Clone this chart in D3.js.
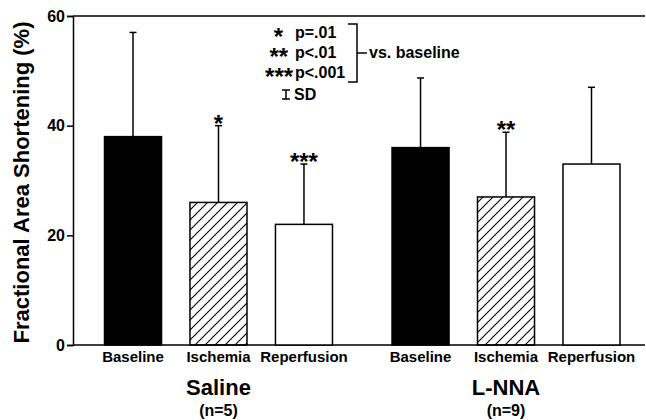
<!DOCTYPE html>
<html>
<head>
<meta charset="utf-8">
<script src="https://cdn.jsdelivr.net/npm/d3@7"></script>
<style>
  body { margin: 0; background: #fff; }
  text { font-family: "Liberation Sans", Arial, Helvetica, sans-serif; font-weight: bold; fill: #000; }
</style>
</head>
<body>
<script>
// data
var groups = ['Saline', 'L-NNA'];
var groupN = ['(n=5)', '(n=9)'];
var conditions = ['Baseline', 'Ischemia', 'Reperfusion'];
var salineMeans = [38, 26, 22];
var salineSD = [19, 14, 11];
var lnnaMeans = [36, 27, 33];
var lnnaSD = [12.7, 11.8, 14];
var salineStars = ['', '*', '***'];
var lnnaStars = ['', '**', ''];
var yTicks = [0, 20, 40, 60];
var legendStars = ['*', '**', '***'];
var legendLabels = ['p=.01', 'p<.01', 'p<.001'];

var W = 646, H = 420;
var svg = d3.select('body').append('svg')
  .attr('width', W)
  .attr('height', H);

// hatch pattern for ischemia
svg.append('defs').append('pattern')
  .attr('id', 'hatch')
  .attr('patternUnits', 'userSpaceOnUse')
  .attr('width', 10)
  .attr('height', 10)
  .append('path')
  .attr('d', 'M0,10 L10,0 M-2,2 L2,-2 M8,12 L12,8')
  .attr('stroke', '#000')
  .attr('stroke-width', 1.1);

var y = d3.scaleLinear().domain([0, 60]).range([345, 16]);
var x0 = d3.scaleBand().domain(groups).range([90.25, 634.25]).paddingInner(0.108).paddingOuter(0);
var x1 = d3.scaleBand().domain(conditions).range([0, x0.bandwidth()]).paddingInner(0.333).paddingOuter(0.1667);

var rows = [];
groups.forEach(function(g, gi) {
  var means = gi === 0 ? salineMeans : lnnaMeans;
  var sds = gi === 0 ? salineSD : lnnaSD;
  var stars = gi === 0 ? salineStars : lnnaStars;
  conditions.forEach(function(c, ci) {
    rows.push({ group: g, cond: c, mean: means[ci], sd: sds[ci], star: stars[ci] });
  });
});

var fills = { Baseline: '#000', Ischemia: 'url(#hatch)', Reperfusion: '#fff' };

// frame lines: top and bottom run across the plot
svg.append('line').attr('x1', 73).attr('x2', 645).attr('y1', y(60)).attr('y2', y(60))
  .attr('stroke', '#000').attr('stroke-width', 1.5);
svg.append('line').attr('x1', 73).attr('x2', 645).attr('y1', y(0)).attr('y2', y(0))
  .attr('stroke', '#000').attr('stroke-width', 1.5);

// y axis
var yAxis = svg.append('g')
  .attr('transform', 'translate(73,0)')
  .call(d3.axisLeft(y).tickValues(yTicks).tickSize(6).tickPadding(2));
yAxis.select('.domain').attr('stroke-width', 1.5);
yAxis.selectAll('.tick line').attr('stroke-width', 1.5);
yAxis.selectAll('.tick text')
  .attr('font-size', 16)
  .style('font-family', '"Liberation Sans", Arial, sans-serif')
  .style('font-weight', 'bold');

svg.append('text')
  .attr('transform', 'translate(29,' + (y(30) + 2) + ') rotate(-90)')
  .attr('text-anchor', 'middle')
  .attr('font-size', 22)
  .text('Fractional Area Shortening (%)');

// error bars
var bx = function(d) { return x0(d.group) + x1(d.cond); };
var cx = function(d) { return bx(d) + x1.bandwidth() / 2; };

svg.selectAll('.err').data(rows).enter().append('line')
  .attr('x1', cx).attr('x2', cx)
  .attr('y1', function(d) { return y(d.mean); })
  .attr('y2', function(d) { return y(d.mean + d.sd); })
  .attr('stroke', '#000').attr('stroke-width', 1.5);
svg.selectAll('.cap').data(rows).enter().append('line')
  .attr('x1', function(d) { return cx(d) - 3.5; })
  .attr('x2', function(d) { return cx(d) + 3.5; })
  .attr('y1', function(d) { return y(d.mean + d.sd); })
  .attr('y2', function(d) { return y(d.mean + d.sd); })
  .attr('stroke', '#000').attr('stroke-width', 1.5);

// bars
svg.selectAll('.bar').data(rows).enter().append('rect')
  .attr('x', bx)
  .attr('y', function(d) { return y(d.mean); })
  .attr('width', x1.bandwidth())
  .attr('height', function(d) { return y(0) - y(d.mean); })
  .attr('fill', function(d) { return fills[d.cond]; })
  .attr('stroke', '#000')
  .attr('stroke-width', 1.5);

// significance stars
svg.selectAll('.star').data(rows.filter(function(d) { return d.star; })).enter().append('text')
  .attr('x', cx)
  .attr('y', function(d) { return y(d.mean + d.sd) + 6; })
  .attr('text-anchor', 'middle')
  .attr('font-size', 24)
  .text(function(d) { return d.star; });

// condition labels
svg.selectAll('.cond').data(rows).enter().append('text')
  .attr('x', cx)
  .attr('y', 362)
  .attr('text-anchor', 'middle')
  .attr('font-size', 15)
  .text(function(d) { return d.cond; });

// group labels
svg.selectAll('.grp').data(groups).enter().append('text')
  .attr('x', function(g) { return x0(g) + x0.bandwidth() / 2; })
  .attr('y', 395)
  .attr('text-anchor', 'middle')
  .attr('font-size', 22)
  .text(function(g) { return g; });
svg.selectAll('.grpn').data(groups).enter().append('text')
  .attr('x', function(g) { return x0(g) + x0.bandwidth() / 2; })
  .attr('y', 416)
  .attr('text-anchor', 'middle')
  .attr('font-size', 16)
  .text(function(g, i) { return groupN[i]; });

// legend: stars + p value on one text line each
var leg = svg.append('g');
legendStars.forEach(function(s, i) {
  var t = leg.append('text')
    .attr('x', 283 + i * 5 - s.length * 9.3)
    .attr('y', 38 + i * 20)
    .attr('font-size', 16);
  t.append('tspan')
    .attr('font-size', 24)
    .attr('dy', 7)
    .text(s);
  t.append('tspan')
    .attr('x', 295)
    .attr('dy', -7)
    .text(legendLabels[i]);
});
leg.append('path')
  .attr('d', 'M348,24 H357 V82 H348 M357,53 H367')
  .attr('fill', 'none').attr('stroke', '#000').attr('stroke-width', 1.5);
leg.append('text')
  .attr('x', 369).attr('y', 58)
  .attr('font-size', 16)
  .text('vs. baseline');
leg.append('path')
  .attr('d', 'M282,90 H290 M286,90 V99 M282,99 H290')
  .attr('fill', 'none').attr('stroke', '#000').attr('stroke-width', 1.5);
leg.append('text')
  .attr('x', 294).attr('y', 100)
  .attr('font-size', 16)
  .text('SD');
</script>
</body>
</html>
